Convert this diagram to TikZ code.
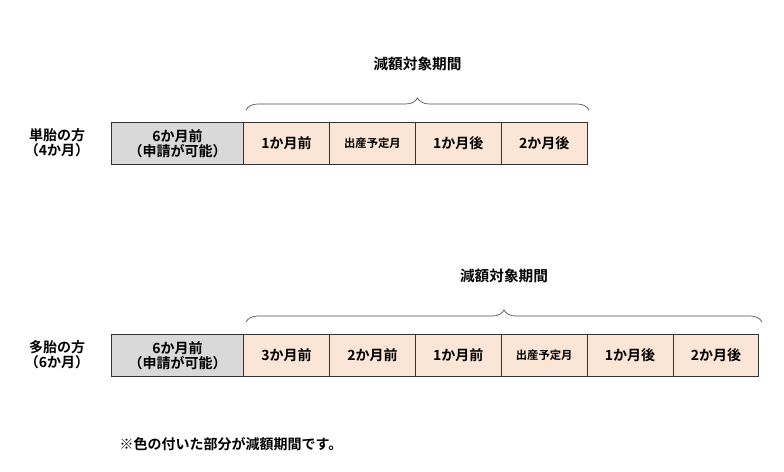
\documentclass[tikz,border=0pt]{standalone}
\usepackage{fontspec}
\setmainfont{Noto Sans CJK JP}[BoldFont={Noto Sans CJK JP Bold}]
\usetikzlibrary{positioning, decorations.pathreplacing}
\definecolor{cellpink}{HTML}{FBE5D6}
\definecolor{cellgray}{HTML}{D9D9D9}

\begin{document}
\begin{tikzpicture}[x=0.75pt,y=-0.75pt,node distance=0pt,
  font=\bfseries\fontsize{10.5}{12}\selectfont,
  cell/.style={draw=black!80,line width=0.6pt,fill=cellpink,minimum width=64.4pt,
    minimum height=32pt,inner sep=0pt,outer sep=0pt},
  first/.style={cell,fill=cellgray,minimum width=99.2pt,align=center,
    font=\bfseries\fontsize{10.5}{11.5}\selectfont},
  small/.style={font=\bfseries\fontsize{8.5}{10}\selectfont},
  brace/.style={decorate,decoration={brace,amplitude=9pt},line width=0.5pt,black!70},
  title/.style={text=black,font=\bfseries\fontsize{11}{12}\selectfont}]
  \useasboundingbox (0,0) rectangle (784,471);

  % single birth
  \node[first] (s0) at (177.5,143.5) {6か月前\\（申請が可能）};
  \node[cell,right=of s0] (s1) {1か月前};
  \node[cell,small,right=of s1] (s2) {出産予定月};
  \node[cell,right=of s2] (s3) {1か月後};
  \node[cell,right=of s3] (s4) {2か月後};
  \node[align=center,font=\bfseries\fontsize{10.5}{11.5}\selectfont] (sl) at (57,143) {単胎の方\\（4か月）};
  \coordinate (sa) at (246,110);
  \coordinate (sb) at (589,110);
  \draw[brace] (sa) -- (sb) node[midway,above=26pt,title] (st) {減額対象期間};

  % multiple birth
  \node[first] (m0) at (177.5,355.5) {6か月前\\（申請が可能）};
  \node[cell,right=of m0] (m1) {3か月前};
  \node[cell,right=of m1] (m2) {2か月前};
  \node[cell,right=of m2] (m3) {1か月前};
  \node[cell,small,right=of m3] (m4) {出産予定月};
  \node[cell,right=of m4] (m5) {1か月後};
  \node[cell,right=of m5] (m6) {2か月後};
  \node[align=center,font=\bfseries\fontsize{10.5}{11.5}\selectfont] (ml) at (57,355) {多胎の方\\（6か月）};
  \coordinate (ma) at (246,322);
  \coordinate (mb) at (762,322);
  \draw[brace] (ma) -- (mb) node[midway,above=26pt,title] (mt) {減額対象期間};

  \node[anchor=west] (note) at (115,444) {※色の付いた部分が減額期間です。};
\end{tikzpicture}
\end{document}
